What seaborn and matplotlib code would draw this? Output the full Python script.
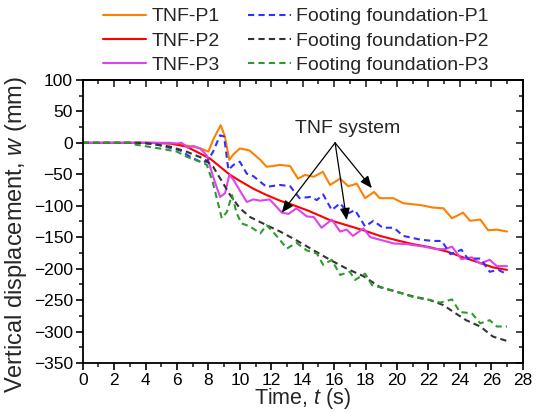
import matplotlib
matplotlib.use("Agg")
import matplotlib.pyplot as plt
import seaborn as sns
import numpy as np
from matplotlib.ticker import MultipleLocator

# ---------------- data ----------------
t_p1 = [0, 4, 5.6, 6.5, 7.0, 7.5, 8.0, 8.3, 8.78, 9.05, 9.33, 9.6, 10.0, 10.6, 11.3, 11.7, 12.1, 12.56, 13.2,
        13.7, 14.15, 14.7, 15.28, 15.74, 16.38, 16.9, 17.44, 17.97, 18.54, 18.9, 19.77, 20.4, 21.5, 22.3,
        22.95, 23.5, 24.2, 24.65, 25.3, 25.8, 26.35, 27.0]
w_p1 = [0, 0, -1, -4, -6, -9, -14, 5, 28, 10, -27, -18, -9, -12, -27, -38, -37, -35, -37,
        -57, -51, -54, -46, -67, -57, -69, -65, -88, -78, -88, -88, -96, -99, -103,
        -104, -120, -111, -124, -122, -139, -138, -141]

t_p2 = [0, 4.5, 5.56, 6.6, 7.47, 8.1, 8.74, 9.38, 10.1, 10.86, 11.7, 12.56, 13.4, 14.36, 15.2, 15.74, 16.8,
        17.86, 18.92, 20.0, 21.0, 22.1, 23.2, 24.2, 25.3, 26.1, 27.0]
w_p2 = [0, 0, -1, -6, -17, -25, -38, -51, -62, -73, -83, -92, -99, -108, -117, -123, -131,
        -139, -148, -155, -161, -166, -173, -182, -191, -198, -202]

t_p3 = [0, 5.5, 6.0, 6.3, 6.7, 7.04, 7.47, 7.9, 8.3, 8.74, 9.06, 9.33, 9.6, 10.1, 10.44, 10.86, 11.3, 11.9,
        12.67, 13.1, 13.6, 14.26, 14.7, 15.2, 15.85, 16.38, 16.8, 17.2, 17.86, 18.3, 18.9, 19.8, 20.6,
        21.7, 22.5, 23.06, 23.5, 24.1, 24.76, 25.3, 25.9, 26.35, 27.0]
w_p3 = [0, 0, -1, 0, -8, -5, -9, -20, -54, -86, -80, -51, -59, -80, -94, -90, -92, -90,
        -111, -113, -104, -117, -118, -135, -122, -141, -138, -148, -136, -150, -154, -160, -161,
        -165, -169, -169, -165, -185, -182, -192, -186, -196, -196]

t_f1 = [0, 4.0, 4.9, 6.2, 6.83, 7.47, 7.9, 8.3, 8.74, 9.0, 9.27, 9.6, 10.0, 10.44, 10.86, 11.7, 12.56, 13.2,
        13.8, 14.47, 14.9, 15.3, 15.85, 16.38, 16.9, 17.33, 17.97, 18.5, 19.1, 19.8, 20.4, 21.5, 22.3,
        22.85, 23.4, 24.1, 24.5, 25.3, 25.9, 26.45, 27.0]
w_f1 = [0, 0, -4, -12, -22, -30, -30, -14, 12, 10, -43, -35, -30, -49, -53, -70, -67, -69,
        -88, -86, -91, -82, -107, -96, -112, -107, -133, -124, -135, -135, -148, -154, -156,
        -156, -177, -170, -184, -184, -205, -202, -209]

t_f2 = [0, 3.5, 4.5, 5.56, 6.6, 7.7, 8.3, 8.95, 9.38, 10.0, 10.65, 11.7, 12.56, 13.6, 14.7, 15.74, 16.8,
        17.86, 18.9, 20.0, 21.0, 22.1, 22.95, 23.6, 24.4, 25.3, 26.1, 27.0]
w_f2 = [0, 0, -2, -6, -14, -25, -38, -65, -83, -104, -118, -131, -141, -155, -171, -186, -200,
        -212, -229, -237, -244, -250, -258, -269, -282, -292, -308, -315]

t_f3 = [0, 3.0, 3.4, 4.9, 6.0, 6.6, 7.47, 7.9, 8.3, 8.85, 9.17, 9.5, 9.8, 10.1, 10.65, 11.3, 11.7, 12.1,
        13.0, 13.6, 14.26, 14.9, 15.3, 15.85, 16.38, 17.0, 17.33, 17.97, 18.4, 19.1, 20.0, 21.0, 22.1,
        22.75, 23.5, 24.0, 24.76, 25.3, 25.9, 26.35, 27.0]
w_f3 = [0, 0, -3, -9, -14, -22, -30, -35, -65, -120, -110, -83, -112, -128, -133, -144, -131, -141,
        -168, -159, -171, -176, -194, -186, -210, -205, -218, -208, -226, -231, -237, -245, -250,
        -254, -249, -269, -271, -287, -282, -292, -292]

labels = ["TNF-P1", "TNF-P2", "TNF-P3",
          "Footing foundation-P1", "Footing foundation-P2", "Footing foundation-P3"]
x_ticks = list(range(0, 29, 2))
y_ticks = list(range(-350, 101, 50))

# ---------------- style ----------------
sns.set_theme(style="ticks")
plt.rcParams["font.family"] = ["Liberation Sans", "DejaVu Sans"]
plt.rcParams["mathtext.fontset"] = "custom"
plt.rcParams["mathtext.rm"] = "Liberation Sans"
plt.rcParams["mathtext.it"] = "Liberation Sans:italic"

fig = plt.figure(figsize=(5.37, 4.12), dpi=100)
ax = fig.add_axes([0.154, 0.119, 0.8194, 0.687])

series = [
    (t_p1, w_p1, "#FF8000", "-"),
    (t_p2, w_p2, "#FF0000", "-"),
    (t_p3, w_p3, "#DD44EE", "-"),
    (t_f1, w_f1, "#3030FF", (0, (3, 2))),
    (t_f2, w_f2, "#333333", (0, (3, 2))),
    (t_f3, w_f3, "#2E9A2E", (0, (3, 2))),
]
handles = []
for (tt, ww, col, ls), lab in zip(series, labels):
    sns.lineplot(x=tt, y=ww, ax=ax, color=col, lw=1.5, label=lab, sort=False)
    ax.lines[-1].set_linestyle(ls)
    handles.append(ax.lines[-1])
ax.get_legend().remove()

ax.set_xlim(0, 28)
ax.set_ylim(-350, 100)
ax.set_xticks(x_ticks)
ax.set_yticks(y_ticks)
ax.xaxis.set_minor_locator(MultipleLocator(1))
ax.yaxis.set_minor_locator(MultipleLocator(25))
ax.tick_params(axis="both", which="major", labelsize=12.5, direction="out", length=5, width=1.2,
               colors="black", pad=2)
ax.tick_params(axis="both", which="minor", direction="out", length=3, width=1.2)
for s in ax.spines.values():
    s.set_linewidth(1.3)
    s.set_color("black")

# mirrored ticks (inward) on top and right
axt = ax.secondary_xaxis("top")
axt.set_xticks(x_ticks)
axt.xaxis.set_minor_locator(MultipleLocator(1))
axt.tick_params(which="both", direction="in", labeltop=False, width=1.2)
axt.tick_params(which="major", length=5)
axt.tick_params(which="minor", length=3)
axr = ax.secondary_yaxis("right")
axr.set_yticks(y_ticks)
axr.yaxis.set_minor_locator(MultipleLocator(25))
axr.tick_params(which="both", direction="in", labelright=False, width=1.2)
axr.tick_params(which="major", length=5)
axr.tick_params(which="minor", length=3)
axt.spines["top"].set_linewidth(1.3)
axr.spines["right"].set_linewidth(1.3)

ax.set_xlabel(r"Time, $\mathit{t}$ (s)", fontsize=15.5, labelpad=-1)
ax.set_ylabel(r"Vertical displacement, $\mathit{w}$ (mm)", fontsize=17)
ax.yaxis.set_label_coords(-0.122, 0.455)

# annotation
ax.text(13.5, 23, "TNF system", fontsize=14, ha="left", va="center")
origin = (16.06, 0)
for target in [(12.67, -111), (16.8, -123), (18.4, -72)]:
    ax.annotate("", xy=target, xytext=origin,
                arrowprops=dict(arrowstyle="-|>,head_length=0.6,head_width=0.25",
                                color="black", lw=0.9, shrinkA=0, shrinkB=0))

fig.legend(handles=handles, labels=labels, ncol=2, loc="upper center",
           bbox_to_anchor=(0.551, 1.0), frameon=False, fontsize=14, borderaxespad=0,
           handlelength=2.2, columnspacing=1.45, labelspacing=0.35, handletextpad=0.3)

fig.savefig("out.png", dpi=100)
